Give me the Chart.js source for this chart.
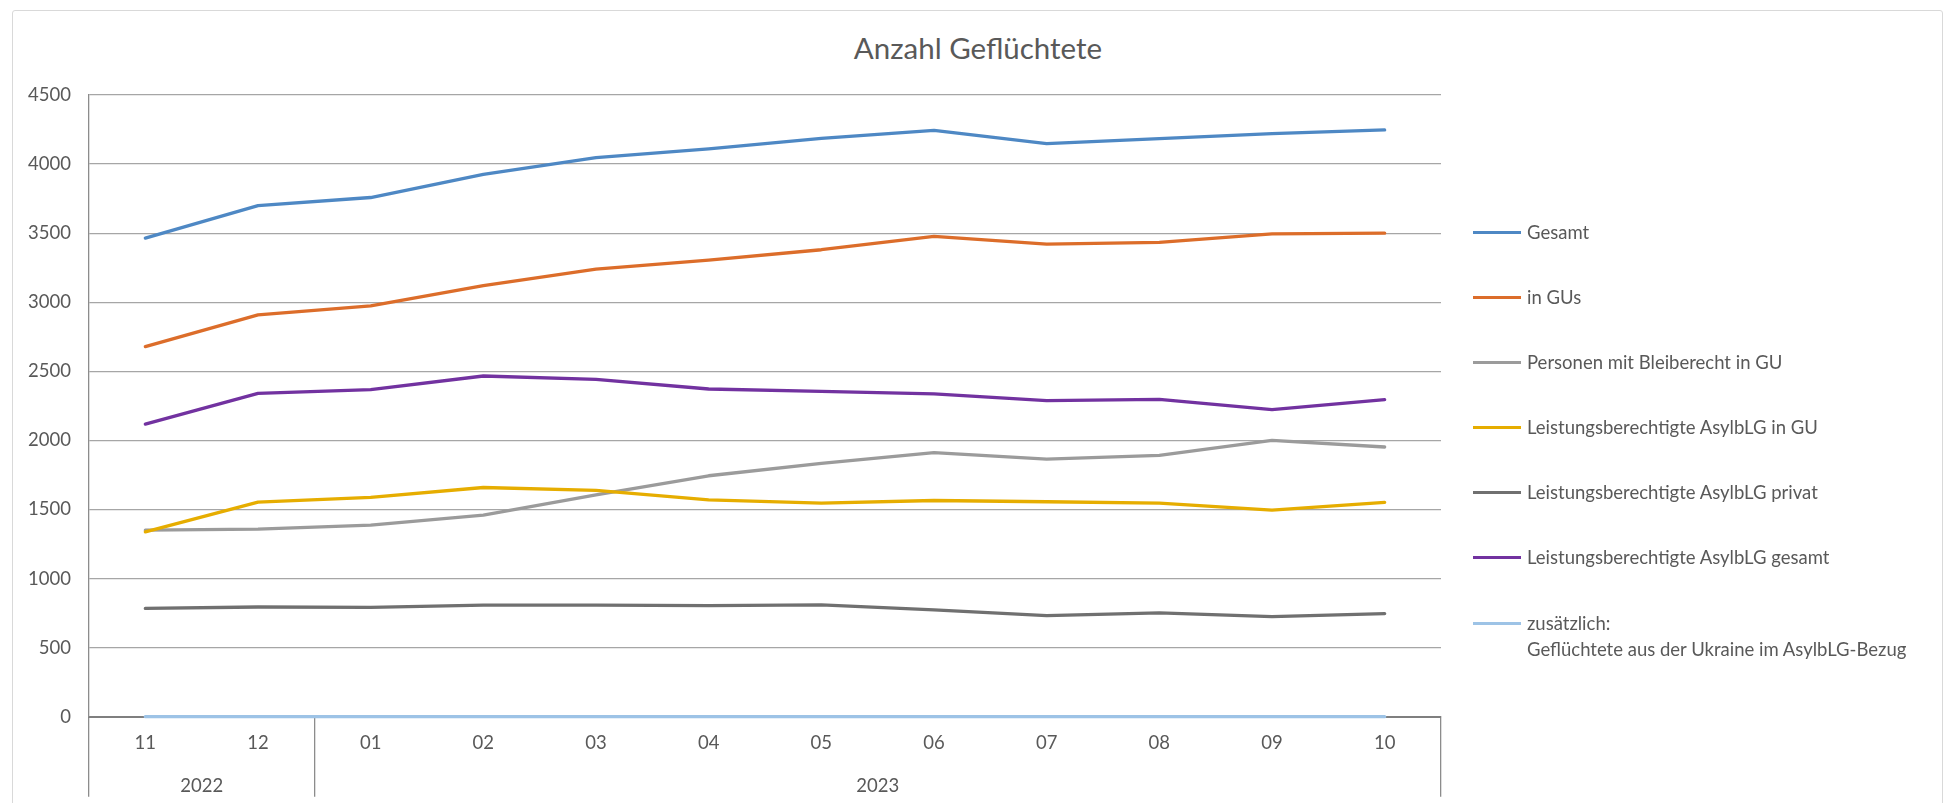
<!DOCTYPE html>
<html>
<head>
<meta charset="utf-8">
<script src="https://cdn.jsdelivr.net/npm/chart.js@4/dist/chart.umd.min.js"></script>
<style>
  html, body { margin: 0; padding: 0; background: #fff; overflow: hidden; }
  #wrap { position: relative; width: 1952px; height: 803px; font-family: Lato, "Open Sans", sans-serif; color: #595959; }
  #frame { position: absolute; left: 12px; top: 10px; width: 1929px; height: 820px; border: 1px solid #d9d9d9; border-radius: 3px; }
  #title { position: absolute; left: 0; width: 1956px; top: 30px; text-align: center; font-size: 29.5px; line-height: 36px; }
  canvas { position: absolute; left: 0; top: 0; }
  .item { position: absolute; left: 1473px; white-space: nowrap; font-size: 18.5px; line-height: 26px; }
  .item i { position: absolute; left: 0; top: 12px; width: 48px; height: 3px; }
  .item span { display: block; margin-left: 54px; }
</style>
</head>
<body>
<div id="wrap">
  <div id="frame"></div>
  <div id="title">Anzahl Geflüchtete</div>
  <canvas id="chart" width="1952" height="803"></canvas>
  <div id="legend"></div>
</div>
<script>
// categories: months, grouped by year
const months = ['11', '12', '01', '02', '03', '04', '05', '06', '07', '08', '09', '10'];
const years = ['2022', '2023'];
const yearSpans = [2, 10];

// series
const gesamt      = [3464, 3699, 3758, 3925, 4046, 4110, 4186, 4244, 4148, 4184, 4220, 4247];
const inGUs       = [2679, 2908, 2973, 3120, 3239, 3305, 3380, 3476, 3420, 3433, 3495, 3500];
const bleiberecht = [1350, 1357, 1386, 1459, 1606, 1744, 1833, 1911, 1865, 1891, 2000, 1952];
const asylGU      = [1338, 1553, 1587, 1659, 1638, 1570, 1546, 1565, 1556, 1546, 1495, 1551];
const asylPrivat  = [784, 794, 791, 808, 808, 804, 809, 773, 732, 751, 725, 746];
const asylGesamt  = [2118, 2340, 2368, 2466, 2442, 2372, 2355, 2336, 2288, 2297, 2222, 2295];
const ukraine     = [0, 0, 0, 0, 0, 0, 0, 0, 0, 0, 0, 0];

const seriesNames = [
  'Gesamt',
  'in GUs',
  'Personen mit Bleiberecht in GU',
  'Leistungsberechtigte AsylbLG in GU',
  'Leistungsberechtigte AsylbLG privat',
  'Leistungsberechtigte AsylbLG gesamt',
  ['zusätzlich:', 'Geflüchtete aus der Ukraine im AsylbLG-Bezug']
];
const seriesData = [gesamt, inGUs, bleiberecht, asylGU, asylPrivat, asylGesamt, ukraine];
const seriesColors = ['#4e88c4', '#dc6d2a', '#9b9b9b', '#e6ad00', '#707070', '#7232a0', '#9dc3e6'];

const textColor = '#595959';
const tickFont = { family: 'Lato', size: 18.5 };

// year group centres and the boundaries between groups
const yearCenters = [];
const yearBounds = [0];
let start = 0;
yearSpans.forEach(function(n) {
  yearCenters.push(start + (n - 1) / 2);
  start += n;
  yearBounds.push(start);
});

const datasets = seriesData.map(function(d, i) {
  return {
    label: Array.isArray(seriesNames[i]) ? seriesNames[i].join(' ') : seriesNames[i],
    data: d,
    borderColor: seriesColors[i],
    backgroundColor: seriesColors[i],
    borderWidth: 3.3,
    borderCapStyle: 'round',
    borderJoinStyle: 'round',
    pointRadius: 0,
    tension: 0,
    clip: false,
    order: seriesData.length - i
  };
});

new Chart(document.getElementById('chart'), {
  type: 'line',
  data: { labels: months, datasets: datasets },
  options: {
    responsive: false,
    animation: false,
    layout: { padding: { left: 0, top: 95, right: 511, bottom: 6.3 } },
    plugins: { legend: { display: false }, title: { display: false }, tooltip: { enabled: false } },
    scales: {
      x: {
        type: 'category',
        offset: true,
        grid: {
          offset: true,
          drawOnChartArea: false,
          drawTicks: true,
          tickLength: 80,
          lineWidth: 1.3,
          color: function(c) {
            const idx = (c.index === undefined) ? months.length : c.index;
            return yearBounds.includes(idx) ? '#8c8c8c' : 'rgba(0,0,0,0)';
          }
        },
        border: { color: '#7f7f7f', width: 2 },
        ticks: { padding: -65, font: tickFont, color: textColor, maxRotation: 0, autoSkip: false },
        afterFit: function(s) { s.height = 36; }
      },
      years: {
        type: 'linear',
        position: 'bottom',
        min: -0.5,
        max: months.length - 0.5,
        afterBuildTicks: function(s) { s.ticks = yearCenters.map(function(v) { return { value: v }; }); },
        ticks: {
          padding: 22, font: tickFont, color: textColor, maxRotation: 0, autoSkip: false,
          callback: function(v) { return years[yearCenters.indexOf(v)]; }
        },
        grid: { display: false, drawTicks: false },
        border: { display: false },
        afterFit: function(s) { s.height = 44; }
      },
      y: {
        min: 0,
        max: 4500,
        ticks: { stepSize: 500, padding: 18, font: tickFont, color: textColor, callback: function(v) { return String(v); } },
        grid: { color: '#a6a6a6', lineWidth: 1.3, drawTicks: false },
        border: { color: '#8c8c8c', width: 1.3 },
        afterFit: function(s) { s.width = 89; }
      }
    }
  }
});

// legend on the right, one row per series
const legendY = [232, 297, 362, 427, 492, 557, 623];
const legend = document.getElementById('legend');
seriesNames.forEach(function(name, i) {
  const item = document.createElement('div');
  item.className = 'item';
  item.style.top = (legendY[i] - 13) + 'px';
  const sw = document.createElement('i');
  sw.style.background = seriesColors[i];
  item.appendChild(sw);
  const lines = Array.isArray(name) ? name : [name];
  lines.forEach(function(t) {
    const s = document.createElement('span');
    s.textContent = t;
    item.appendChild(s);
  });
  legend.appendChild(item);
});
</script>
</body>
</html>
